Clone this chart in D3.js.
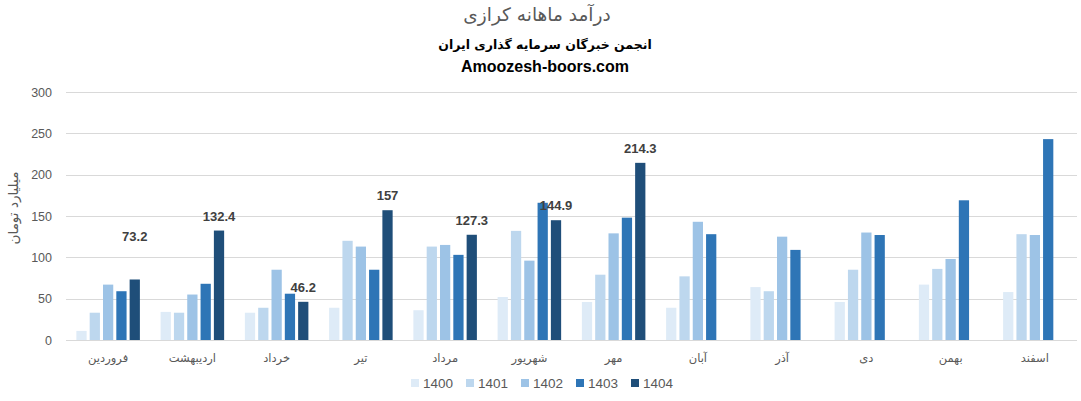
<!DOCTYPE html>
<html>
<head>
<meta charset="utf-8">
<script src="https://cdn.jsdelivr.net/npm/d3@7/dist/d3.min.js"></script>
<style>
  html, body { margin: 0; padding: 0; background: #fff; }
  svg { display: block; }
</style>
</head>
<body>
<svg id="chart" width="1081" height="401"></svg>
<script>
const categories = ["فروردین", "اردیبهشت", "خرداد", "تیر", "مرداد", "شهریور", "مهر", "آبان", "آذر", "دی", "بهمن", "اسفند"];
const seriesNames = ["1400", "1401", "1402", "1403", "1404"];
const values1400 = [11, 34, 33, 39, 36, 52, 46, 39, 64, 46, 67, 58];
const values1401 = [33, 33, 39, 120, 113, 132, 79, 77, 59, 85, 86, 128];
const values1402 = [67, 55, 85, 113, 115, 96, 129, 143, 125, 130, 98, 127];
const values1403 = [59, 68, 56, 85, 103, 166, 148, 128, 109, 127, 169, 243];
const values1404 = [73.2, 132.4, 46.2, 157, 127.3, 144.9, 214.3, null, null, null, null, null];
const yTicks = [0, 50, 100, 150, 200, 250, 300];
const titleText = "درآمد ماهانه کرازی";
const subtitleText = "انجمن خبرگان سرمایه گذاری ایران";
const siteText = "Amoozesh-boors.com";
const yAxisTitle = "میلیارد تومان";

(function () {
const seriesValues = [values1400, values1401, values1402, values1403, values1404];
const colors = ["#deebf7", "#bdd7ee", "#9dc3e6", "#2e75b6", "#1f4e79"];
const fontAr = "'DejaVu Sans', 'Noto Sans', sans-serif";
const fontLat = "'Liberation Sans', Arial, sans-serif";

const svg = d3.select("#chart");

const pLeft = 66, pRight = 1077, pTop = 92, pBottom = 340;
const x0 = d3.scaleBand().domain(categories).range([pLeft, pRight]).padding(0);
const bw = x0.bandwidth();
const x1 = d3.scaleBand().domain(seriesNames).range([bw * 0.123, bw * 0.877]).paddingInner(0.23).paddingOuter(0);
const y = d3.scaleLinear().domain([0, 300]).range([pBottom, pTop]);

// gridlines
svg.append("g").selectAll("line").data(yTicks).join("line")
  .attr("x1", pLeft).attr("x2", pRight)
  .attr("y1", d => Math.round(y(d)) + 0.5).attr("y2", d => Math.round(y(d)) + 0.5)
  .attr("stroke", "#d9d9d9").attr("stroke-width", 1);

// y axis labels
const yAxis = d3.axisLeft(y).tickValues(yTicks).tickSize(0).tickPadding(0);
const yg = svg.append("g").attr("transform", `translate(${pLeft - 14},0)`).call(yAxis);
yg.select(".domain").remove();
yg.selectAll("text").attr("fill", "#595959").style("font-family", fontLat).style("font-size", "12.5px");

// y axis title
svg.append("text")
  .attr("transform", `translate(18,${(pTop + pBottom) / 2 - 8}) rotate(-90)`)
  .attr("text-anchor", "middle")
  .attr("fill", "#595959")
  .style("font-family", fontAr).style("font-size", "13.5px")
  .text(yAxisTitle);

// bars
const flat = [];
categories.forEach((c, i) => {
  seriesNames.forEach((s, j) => {
    const v = seriesValues[j][i];
    if (v != null) flat.push({ cat: c, series: s, j, v });
  });
});
svg.append("g").selectAll("rect").data(flat).join("rect")
  .attr("x", d => x0(d.cat) + x1(d.series))
  .attr("width", x1.bandwidth())
  .attr("y", d => y(d.v))
  .attr("height", d => y(0) - y(d.v))
  .attr("fill", d => colors[d.j]);

// data labels for 1404
const labelLift = { "فروردین": 28 };
const labels = categories.map((c, i) => ({ cat: c, v: values1404[i] })).filter(d => d.v != null);
svg.append("g").selectAll("text").data(labels).join("text")
  .attr("x", d => x0(d.cat) + x1("1404") + x1.bandwidth() / 2)
  .attr("y", d => y(d.v) - 10 - (labelLift[d.cat] || 0))
  .attr("text-anchor", "middle")
  .attr("fill", "#404040")
  .style("font-family", fontLat).style("font-size", "13px").style("font-weight", "bold")
  .text(d => d.v);

// x axis labels
const xAxis = d3.axisBottom(x0).tickSize(0).tickPadding(0);
const xg = svg.append("g").attr("transform", `translate(0,${pBottom + 14})`).call(xAxis);
xg.select(".domain").remove();
xg.selectAll("text").attr("fill", "#595959").attr("dy", "0.71em")
  .style("font-family", fontAr).style("font-size", "11.5px");

// titles
svg.append("text").attr("x", 537).attr("y", 21).attr("text-anchor", "middle")
  .attr("fill", "#595959").style("font-family", fontAr).style("font-size", "18.5px")
  .text(titleText);
svg.append("text").attr("x", 545).attr("y", 49).attr("text-anchor", "middle")
  .attr("fill", "#000").style("font-family", fontAr).style("font-size", "12.5px").style("font-weight", "bold")
  .text(subtitleText);
svg.append("text").attr("x", 545).attr("y", 72).attr("text-anchor", "middle")
  .attr("fill", "#000").style("font-family", fontLat).style("font-size", "16px").style("font-weight", "bold")
  .text(siteText);

// legend
const lg = svg.append("g").selectAll("g").data(seriesNames).join("g")
  .attr("transform", (d, i) => `translate(${411 + i * 55},379)`);
lg.append("rect").attr("width", 8).attr("height", 8).attr("fill", (d, i) => colors[i]);
lg.append("text").attr("x", 12).attr("y", 9)
  .attr("fill", "#595959").style("font-family", fontLat).style("font-size", "13.5px")
  .text(d => d);
})();
</script>
</body>
</html>
